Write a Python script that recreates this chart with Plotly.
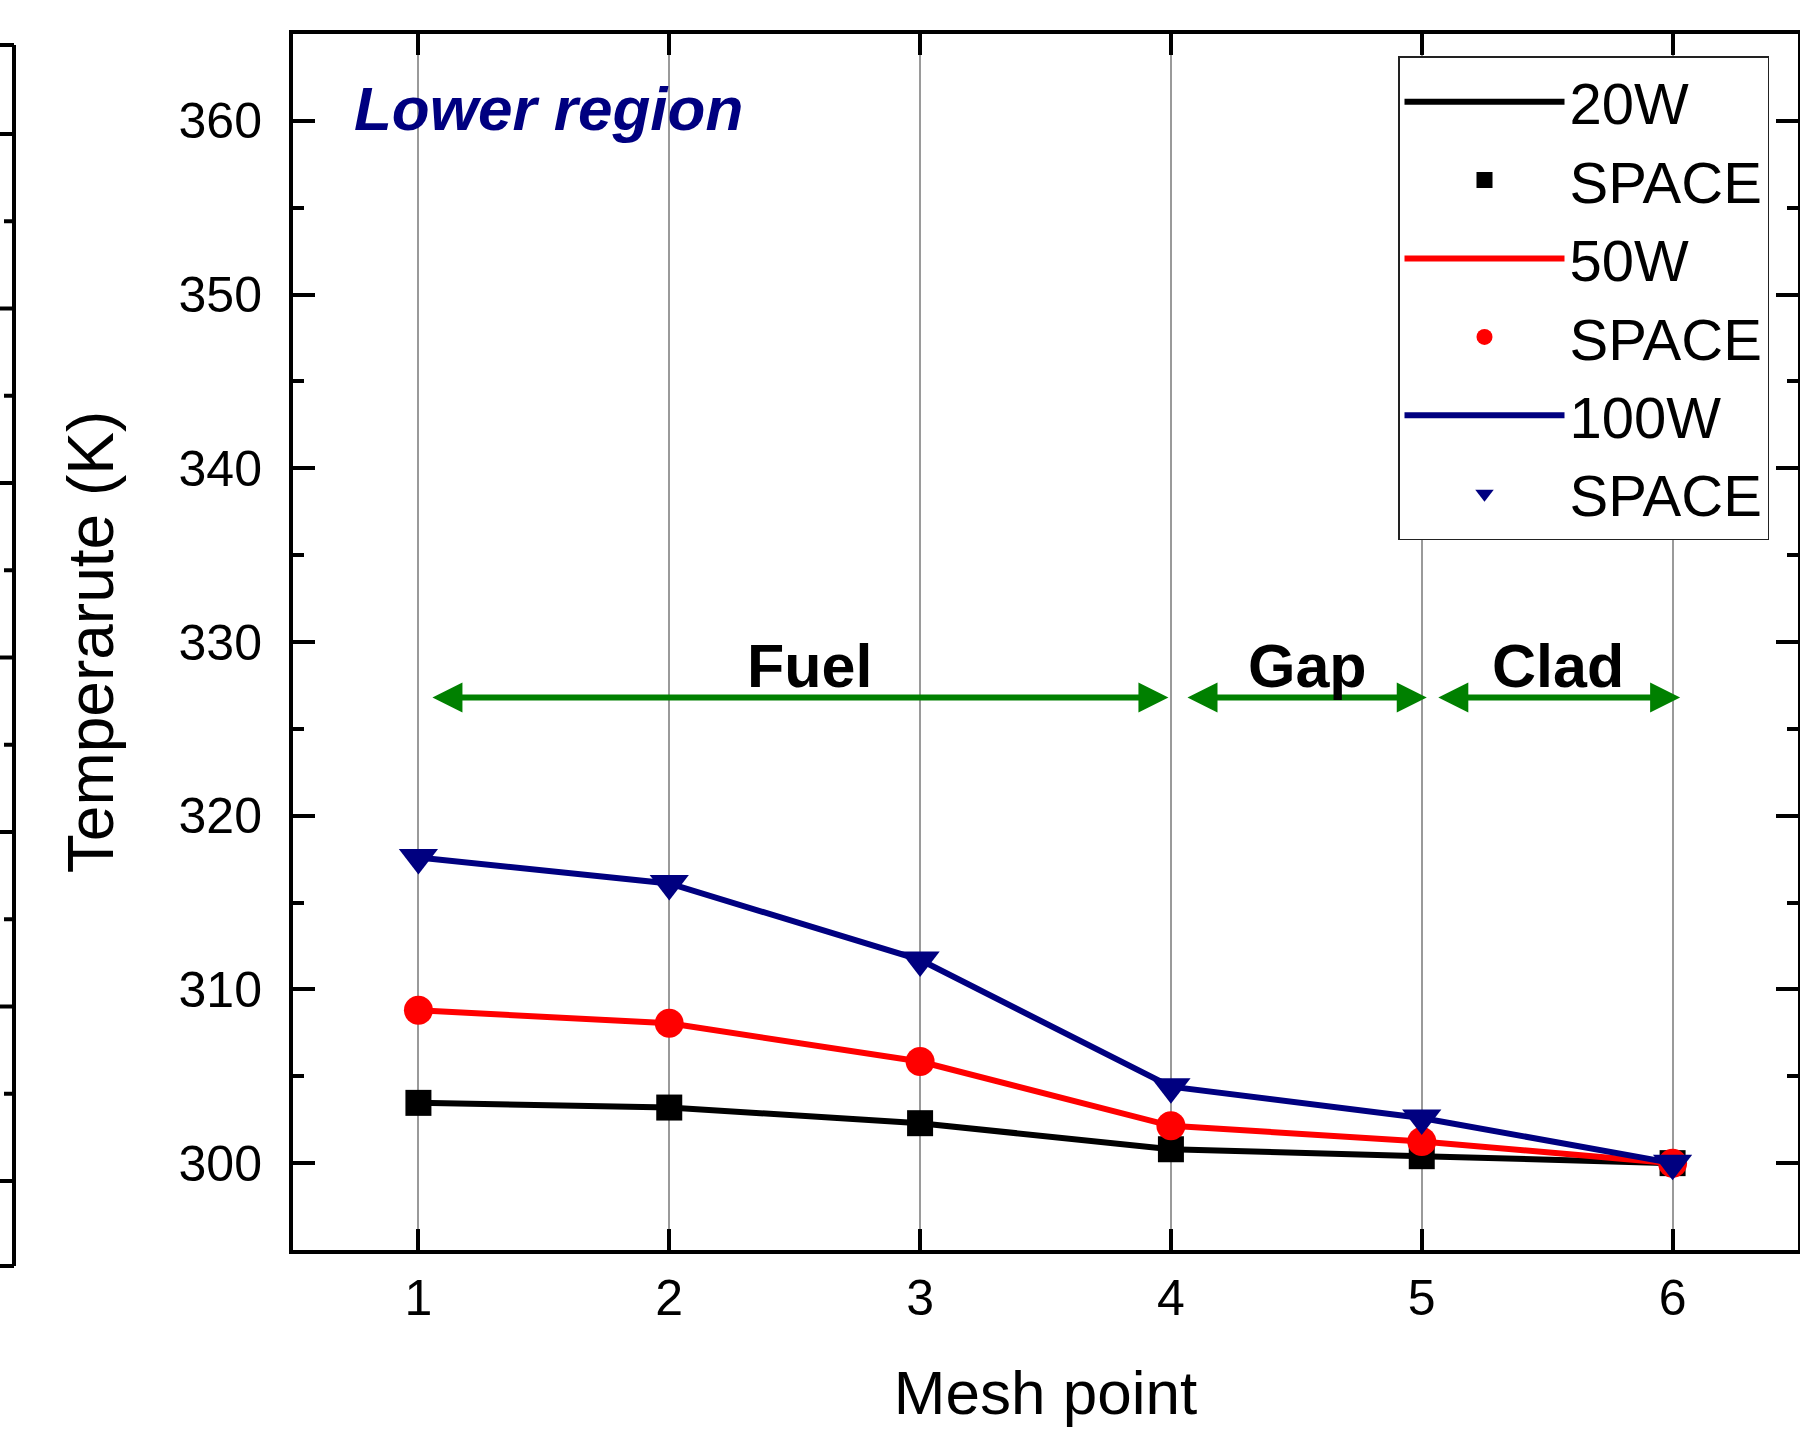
import plotly.graph_objects as go

# ---------------- data ----------------
mesh_points = [1, 2, 3, 4, 5, 6]
temp_20w = [303.47, 303.2, 302.3, 300.8, 300.4, 300.0]
temp_50w = [308.8, 308.05, 305.85, 302.15, 301.25, 300.0]
temp_100w = [317.6, 316.1, 311.7, 304.4, 302.6, 300.0]
series_names = ["20W", "50W", "100W"]
marker_name = "SPACE"

region_labels = ["Fuel", "Gap", "Clad"]
region_starts = [1.05, 4.06, 5.06]
region_ends = [3.99, 5.02, 6.03]
region_label_x = [2.56, 4.545, 5.545]
arrow_level = 326.8
label_level = 328.6

panel_label = "Lower region"
x_title = "Mesh point"
y_title = "Temperarute (K)"

# ---------------- style ----------------
FONT = "Liberation Sans, Arial, Helvetica, sans-serif"
W, H = 1800, 1431
L, R, T, B = 293, 2, 34, 181
colors = ["#000000", "#ff0000", "#000080"]
symbols = ["square", "circle", "triangle-down"]
msizes = [26, 29, 34]

fig = go.Figure()
for name, ys, c, sym, ms in zip(series_names, [temp_20w, temp_50w, temp_100w], colors, symbols, msizes):
    fig.add_trace(go.Scatter(x=mesh_points, y=ys, mode="lines", name=name,
                             line=dict(color=c, width=6)))
    fig.add_trace(go.Scatter(x=mesh_points, y=ys, mode="markers", name=marker_name,
                             marker=dict(color=c, symbol=sym, size=ms, line=dict(width=0))))

annotations = []
for lab, s, e, lx in zip(region_labels, region_starts, region_ends, region_label_x):
    annotations.append(dict(x=e, y=arrow_level, ax=s, ay=arrow_level, xref="x", yref="y",
                            axref="x", ayref="y", text="", showarrow=True,
                            arrowhead=2, startarrowhead=2, arrowside="end+start",
                            arrowsize=1.0, startarrowsize=1.0, arrowwidth=6,
                            arrowcolor="#008000", standoff=0, startstandoff=0))
    annotations.append(dict(x=lx, y=label_level, xref="x", yref="y", text="<b>%s</b>" % lab,
                            showarrow=False, xanchor="center", yanchor="middle",
                            font=dict(family=FONT, size=61, color="black")))
annotations.append(dict(x=0.735, y=360.74, xref="x", yref="y",
                        text="<b><i>%s</i></b>" % panel_label, showarrow=False,
                        xanchor="left", yanchor="middle",
                        font=dict(family=FONT, size=62, color="#000080")))

# decorative partial frame of neighbouring panel at the left edge
def px_x(px):
    return (px - L) / (W - L - R)

def px_y(py):
    return (H - B - py) / (H - T - B)

shapes = []
lc = dict(color="black", width=4)
shapes.append(dict(type="line", xref="paper", yref="paper", x0=px_x(14), x1=px_x(14),
                   y0=px_y(45), y1=px_y(1266), line=lc))
for yy in (45, 1266):
    shapes.append(dict(type="line", xref="paper", yref="paper", x0=px_x(0), x1=px_x(14),
                       y0=px_y(yy), y1=px_y(yy), line=lc))
for k in range(7):
    yy = 134 + k * 174.5
    shapes.append(dict(type="line", xref="paper", yref="paper", x0=px_x(0), x1=px_x(14),
                       y0=px_y(yy), y1=px_y(yy), line=lc))
for k in range(6):
    yy = 221.25 + k * 174.5
    shapes.append(dict(type="line", xref="paper", yref="paper", x0=px_x(4), x1=px_x(14),
                       y0=px_y(yy), y1=px_y(yy), line=lc))

fig.update_layout(
    width=W, height=H,
    margin=dict(l=L, r=R, t=T, b=B, pad=0, autoexpand=False),
    plot_bgcolor="white", paper_bgcolor="white",
    font=dict(family=FONT, color="black"),
    showlegend=True,
    legend=dict(x=px_x(1769), xanchor="right", y=px_y(56), yanchor="top",
                bgcolor="white", bordercolor="#222222", borderwidth=1.5,
                font=dict(family=FONT, size=58, color="black"),
                itemwidth=160, tracegroupgap=0, itemsizing="trace"),
    annotations=annotations,
    shapes=shapes,
)
fig.update_xaxes(range=[0.5, 6.5], tickmode="array", tickvals=mesh_points,
                 ticks="inside", ticklen=21, tickwidth=4, tickcolor="black",
                 showline=True, linewidth=4, linecolor="black", mirror="ticks",
                 showgrid=True, gridcolor="#9a9a9a", gridwidth=1.5, zeroline=False,
                 tickfont=dict(family=FONT, size=50, color="black"),
                 ticklabelstandoff=1,
                 title=dict(text=x_title, font=dict(family=FONT, size=62, color="black"), standoff=47))
fig.update_yaxes(range=[295, 365], tickmode="linear", tick0=300, dtick=10,
                 ticks="inside", ticklen=22, tickwidth=4, tickcolor="black",
                 minor=dict(dtick=5, tick0=295, ticks="inside", ticklen=11, tickwidth=4,
                            tickcolor="black", showgrid=False),
                 showline=True, linewidth=4, linecolor="black", mirror="ticks",
                 showgrid=False, zeroline=False,
                 tickfont=dict(family=FONT, size=50, color="black"),
                 ticklabelstandoff=17,
                 title=dict(text=y_title, font=dict(family=FONT, size=64, color="black"), standoff=45))

fig.write_html("out.html")
